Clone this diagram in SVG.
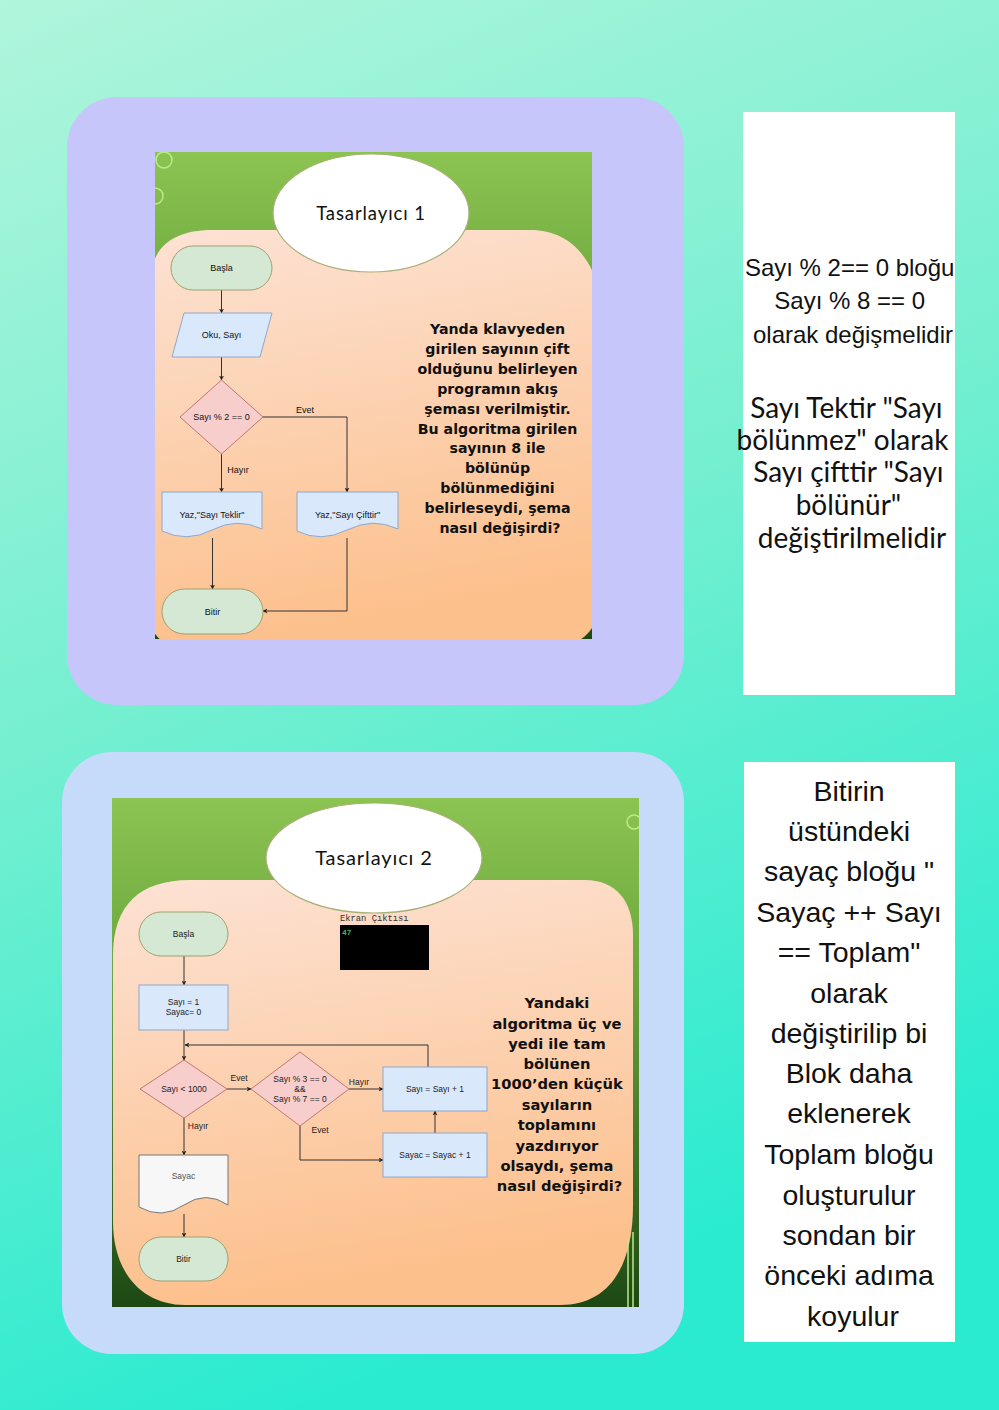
<svg xmlns="http://www.w3.org/2000/svg" width="999" height="1410" viewBox="0 0 999 1410">
<defs>
<linearGradient id="bg" x1="0" y1="0" x2="0.3" y2="1">
<stop offset="0" stop-color="#b0f5dc"/>
<stop offset="0.5" stop-color="#74efd0"/>
<stop offset="1" stop-color="#2aebd0"/>
</linearGradient>
<linearGradient id="green" x1="0" y1="0" x2="0" y2="1">
<stop offset="0" stop-color="#8cc452"/>
<stop offset="0.35" stop-color="#6aa63c"/>
<stop offset="1" stop-color="#1d4815"/>
</linearGradient>
<linearGradient id="peach" x1="0" y1="0" x2="0.2" y2="1">
<stop offset="0" stop-color="#fde2d4"/>
<stop offset="1" stop-color="#fcc08c"/>
</linearGradient>
<clipPath id="c1"><rect x="155" y="152" width="437" height="487"/></clipPath>
<clipPath id="c2"><rect x="112" y="798" width="527" height="509"/></clipPath>
<marker id="ar" viewBox="0 0 10 10" refX="9" refY="5" markerWidth="5" markerHeight="5" orient="auto">
<path d="M0,0 L10,5 L0,10 L3,5 Z" fill="#222"/>
</marker>
<style>
.ln{fill:none;stroke:#333;stroke-width:1;}
.term{fill:#d5e8d4;stroke:#a0a070;stroke-width:1;}
.blue{fill:#dae8fc;stroke:#8ea8cc;stroke-width:1;}
.dia{fill:#f8cecc;stroke:#c07870;stroke-width:1;}
.doc{fill:#f7f7f7;stroke:#777;stroke-width:1;}
.t9{font-family:"Liberation Sans",Arial,sans-serif;font-size:9px;fill:#111;text-anchor:middle;}
.t8{font-family:"Liberation Sans",Arial,sans-serif;font-size:8.5px;fill:#222;text-anchor:middle;}
.el{fill:#fff;stroke:#a8b078;stroke-width:1.2;}
.title{font-family:"Lato","DejaVu Sans",sans-serif;fill:#111;text-anchor:middle;letter-spacing:0.9px;}
.q{font-family:"DejaVu Sans",Verdana,sans-serif;font-weight:bold;fill:#111;text-anchor:middle;}
.ra{font-family:"Liberation Sans",Arial,sans-serif;fill:#111;text-anchor:middle;}
.rl{font-family:"Lato","Noto Sans",sans-serif;fill:#111;text-anchor:middle;}
.deco{fill:none;stroke:#bdea8a;stroke-width:1.5;}
</style>
</defs>

<rect width="999" height="1410" fill="url(#bg)"/>

<!-- panels -->
<rect x="67" y="97" width="617" height="608" rx="50" fill="#c6c6fa"/>
<rect x="62" y="752" width="622" height="602" rx="50" fill="#c6dafa"/>

<!-- slide 1 -->
<g clip-path="url(#c1)">
<rect x="155" y="152" width="437" height="487" fill="url(#green)"/>
<circle class="deco" cx="164" cy="160" r="8"/>
<circle class="deco" cx="155" cy="196" r="8"/>
<path d="M150,285 C150,248 172,230 212,230 L530,230 C568,230 590,255 600,292 L600,598 C600,625 585,645 560,645 L178,645 C162,645 150,635 150,615 Z" fill="url(#peach)"/>
</g>
<g id="title1">
<ellipse class="el" cx="371" cy="213" rx="98" ry="59"/>
<text class="title" x="371" y="220" font-size="18.5">Tasarlayıcı 1</text>
</g>

<g id="connectors1">
<line class="ln" x1="221.5" y1="290" x2="221.5" y2="313" marker-end="url(#ar)"/>
<line class="ln" x1="221.5" y1="357" x2="221.5" y2="380" marker-end="url(#ar)"/>
<polyline class="ln" points="263,417 347,417 347,492" marker-end="url(#ar)"/>
<text class="t9" x="305" y="413">Evet</text>
<line class="ln" x1="221.5" y1="454" x2="221.5" y2="492" marker-end="url(#ar)"/>
<text class="t9" x="238" y="473">Hayır</text>
<line class="ln" x1="212.5" y1="538" x2="212.5" y2="589" marker-end="url(#ar)"/>
<polyline class="ln" points="347,538 347,611 263,611" marker-end="url(#ar)"/>
</g>

<g id="basla1">
<rect class="term" x="171" y="246" width="101" height="44" rx="22"/>
<text class="t9" x="221.5" y="271">Başla</text>
</g>
<g id="oku1">
<polygon class="blue" points="184,313 272,313 260,357 172,357"/>
<text class="t9" x="221.5" y="338">Oku, Sayı</text>
</g>
<g id="karar1">
<polygon class="dia" points="221.5,380 263,417 221.5,454 180,417"/>
<text class="t9" x="221.5" y="420">Sayı % 2 == 0</text>
</g>
<g id="teklir1">
<path class="doc" style="fill:#dae8fc;stroke:#8ea8cc" d="M162,492 H262 V529 Q237,517 212,530 T162,531 Z"/>
<text class="t9" x="212" y="518">Yaz,"Sayı Teklir"</text>
</g>
<g id="ciftir1">
<path class="doc" style="fill:#dae8fc;stroke:#8ea8cc" d="M297,492 H398 V529 Q373,517 347,530 T297,531 Z"/>
<text class="t9" x="347.5" y="518">Yaz,"Sayı Çifttir"</text>
</g>
<g id="bitir1">
<rect class="term" x="162" y="589" width="101" height="45" rx="22.5"/>
<text class="t9" x="212.5" y="614.5">Bitir</text>
</g>

<g id="soru1">
<text class="q" font-size="14.2">
<tspan x="500" y="334">Yanda klavyeden</tspan>
<tspan x="500" y="354">girilen sayının çift</tspan>
<tspan x="500" y="374">olduğunu belirleyen</tspan>
<tspan x="500" y="394">programın akış</tspan>
<tspan x="500" y="414">şeması verilmiştir.</tspan>
<tspan x="500" y="434">Bu algoritma girilen</tspan>
<tspan x="500" y="453">sayının 8 ile</tspan>
<tspan x="500" y="473">bölünüp</tspan>
<tspan x="500" y="493">bölünmediğini</tspan>
<tspan x="500" y="513">belirleseydi, şema</tspan>
<tspan x="500" y="533">nasıl değişirdi?</tspan>
</text>
</g>

<!-- slide 2 -->
<g clip-path="url(#c2)">
<rect x="112" y="798" width="527" height="509" fill="url(#green)"/>
<circle class="deco" cx="634" cy="822" r="7"/>
<path d="M113,955 C113,905 140,880 190,880 L585,880 C615,880 633,900 633,935 L633,1205 C633,1268 608,1305 560,1305 L185,1305 C140,1305 113,1270 113,1222 Z" fill="url(#peach)"/>
<line class="deco" x1="628" y1="1240" x2="628" y2="1307"/>
<line class="deco" x1="633" y1="1232" x2="633" y2="1307"/>
</g>
<g id="title2">
<ellipse class="el" cx="374" cy="858" rx="108" ry="55"/>
<text class="title" x="374" y="865" font-size="20">Tasarlayıcı 2</text>
</g>
<g id="ekran">
<text x="340" y="921" font-family="Liberation Mono,monospace" font-size="8.8" fill="#333">Ekran Çıktısı</text>
<rect x="340" y="925" width="89" height="45" fill="#000"/>
<text x="342" y="935" font-family="Liberation Mono,monospace" font-size="8" font-weight="bold" fill="#4caf50">47</text>
</g>

<g id="connectors2">
<line class="ln" x1="184" y1="956" x2="184" y2="985" marker-end="url(#ar)"/>
<line class="ln" x1="184" y1="1030" x2="184" y2="1060" marker-end="url(#ar)"/>
<polyline class="ln" points="428,1067 428,1045 185,1045" marker-end="url(#ar)"/>
<line class="ln" x1="227" y1="1089" x2="251" y2="1089" marker-end="url(#ar)"/>
<text class="t8" x="239" y="1081">Evet</text>
<line class="ln" x1="349" y1="1089" x2="383" y2="1089" marker-end="url(#ar)"/>
<text class="t8" x="359" y="1085">Hayır</text>
<line class="ln" x1="435" y1="1133" x2="435" y2="1111" marker-end="url(#ar)"/>
<polyline class="ln" points="300,1126 300,1160 383,1160" marker-end="url(#ar)"/>
<text class="t8" x="320" y="1133">Evet</text>
<line class="ln" x1="184" y1="1118" x2="184" y2="1155" marker-end="url(#ar)"/>
<text class="t8" x="198" y="1129">Hayır</text>
<line class="ln" x1="184" y1="1214" x2="184" y2="1237" marker-end="url(#ar)"/>
</g>

<g id="basla2">
<rect class="term" x="139" y="912" width="89" height="44" rx="22"/>
<text class="t8" x="183.5" y="937">Başla</text>
</g>
<g id="ilk2">
<rect class="blue" x="139" y="985" width="89" height="45"/>
<text class="t8" x="183.5" y="1005">Sayı = 1</text>
<text class="t8" x="183.5" y="1015">Sayac= 0</text>
</g>
<g id="karar2a">
<polygon class="dia" points="184,1060 227,1089 184,1118 140,1089"/>
<text class="t8" x="184" y="1092">Sayı &lt; 1000</text>
</g>
<g id="karar2b">
<polygon class="dia" points="300,1052 349,1089 300,1126 251,1089"/>
<text class="t8" x="300" y="1082">Sayı % 3 == 0</text>
<text class="t8" x="300" y="1092">&amp;&amp;</text>
<text class="t8" x="300" y="1102">Sayı % 7 == 0</text>
</g>
<g id="artir2">
<rect class="blue" x="383" y="1067" width="104" height="44"/>
<text class="t8" x="435" y="1092">Sayı = Sayı + 1</text>
</g>
<g id="sayac2">
<rect class="blue" x="383" y="1133" width="104" height="44"/>
<text class="t8" x="435" y="1158">Sayac = Sayac + 1</text>
</g>
<g id="cikti2">
<path class="doc" d="M139,1155 H228 V1205 Q206,1190 184,1205 T139,1207 Z"/>
<text class="t8" x="183.5" y="1179" style="fill:#555">Sayac</text>
</g>
<g id="bitir2">
<rect class="term" x="139" y="1237" width="89" height="44" rx="22"/>
<text class="t8" x="183.5" y="1262">Bitir</text>
</g>

<g id="soru2">
<text class="q" font-size="14.7">
<tspan x="559.5" y="1008">Yandaki</tspan>
<tspan x="559.5" y="1029">algoritma üç ve</tspan>
<tspan x="559.5" y="1049">yedi ile tam</tspan>
<tspan x="559.5" y="1069">bölünen</tspan>
<tspan x="559.5" y="1089">1000’den küçük</tspan>
<tspan x="559.5" y="1110">sayıların</tspan>
<tspan x="559.5" y="1130">toplamını</tspan>
<tspan x="559.5" y="1151">yazdırıyor</tspan>
<tspan x="559.5" y="1171">olsaydı, şema</tspan>
<tspan x="559.5" y="1191">nasıl değişirdi?</tspan>
</text>
</g>

<!-- right answer boxes -->
<g id="cevap1">
<rect x="743" y="112" width="212" height="583" fill="#fff"/>
<text class="ra" font-size="24">
<tspan x="853" y="276">Sayı % 2== 0 bloğu</tspan>
<tspan x="853" y="309">Sayı % 8 == 0</tspan>
<tspan x="853" y="343">olarak değişmelidir</tspan>
</text>
<text class="rl" font-size="28">
<tspan x="850" y="418">Sayı Tektir "Sayı</tspan>
<tspan x="846" y="450">bölünmez" olarak</tspan>
<tspan x="852" y="482">Sayı çifttir "Sayı</tspan>
<tspan x="852" y="515">bölünür"</tspan>
<tspan x="852" y="548">değiştirilmelidir</tspan>
</text>
</g>
<g id="cevap2">
<rect x="744" y="762" width="211" height="580" fill="#fff"/>
<text class="ra" font-size="28.5">
<tspan x="853" y="801">Bitirin</tspan>
<tspan x="853" y="841">üstündeki</tspan>
<tspan x="853" y="881">sayaç bloğu "</tspan>
<tspan x="853" y="922">Sayaç ++ Sayı</tspan>
<tspan x="853" y="962">== Toplam"</tspan>
<tspan x="853" y="1003">olarak</tspan>
<tspan x="853" y="1043">değiştirilip bi</tspan>
<tspan x="853" y="1083">Blok daha</tspan>
<tspan x="853" y="1123">eklenerek</tspan>
<tspan x="853" y="1164">Toplam bloğu</tspan>
<tspan x="853" y="1205">oluşturulur</tspan>
<tspan x="853" y="1245">sondan bir</tspan>
<tspan x="853" y="1285">önceki adıma</tspan>
<tspan x="853" y="1326">koyulur</tspan>
</text>
</g>
</svg>
